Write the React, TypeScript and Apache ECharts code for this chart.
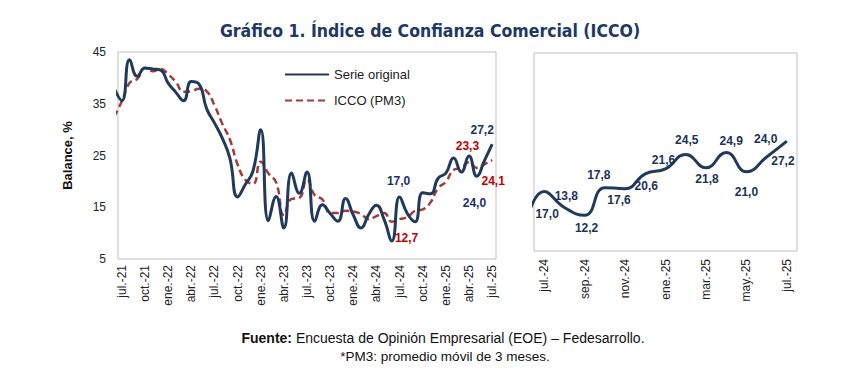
import React, { useEffect, useRef } from 'react';
import * as echarts from 'echarts';

// Left panel tick labels (every 3 months, jul-21 .. jul-25)
const leftTickLabels = ['jul.-21', 'oct.-21', 'ene.-22', 'abr.-22', 'jul.-22', 'oct.-22', 'ene.-23', 'abr.-23', 'jul.-23', 'oct.-23', 'ene.-24', 'abr.-24', 'jul.-24', 'oct.-24', 'ene.-25', 'abr.-25', 'jul.-25'];
// Right panel tick labels (every 2 months, jul-24 .. jul-25)
const rightTickLabels = ['jul.-24', 'sep.-24', 'nov.-24', 'ene.-25', 'mar.-25', 'may.-25', 'jul.-25'];

// Monthly values jun-21 .. jul-25 (first value sits just left of the plot and is clipped)
const serieOriginal = [38.0, 35.6, 43.5, 40.3, 41.9, 41.7, 41.5, 39.0, 37.2, 35.6, 39.3, 38.8, 34.0, 31.3, 28.4, 24.5, 17.0, 19.4, 22.0, 30.0, 12.4, 17.1, 11.0, 21.6, 17.7, 21.8, 12.3, 15.5, 13.8, 12.3, 16.7, 13.5, 11.0, 13.6, 15.4, 12.6, 8.5, 17.0, 13.8, 12.2, 17.8, 17.6, 20.6, 21.6, 24.5, 21.8, 24.9, 21.0, 24.0, 27.2];
const iccoPM3 = [32.5, 35.5, 39.0, 39.8, 41.9, 41.3, 41.7, 40.7, 39.2, 37.3, 37.4, 37.9, 37.4, 34.7, 31.2, 28.1, 23.3, 20.3, 19.5, 23.8, 21.5, 19.8, 13.5, 16.6, 16.8, 20.4, 17.3, 16.5, 13.9, 13.9, 14.3, 14.2, 13.7, 12.7, 13.3, 13.9, 12.2, 12.7, 13.1, 14.3, 14.6, 15.9, 18.7, 19.9, 22.2, 22.6, 23.7, 22.6, 23.3, 24.1];
// Right panel: jun-24 .. jul-25 (jun-24 clipped at the left edge)
const serieReciente = [8.5, 17.0, 13.8, 12.2, 17.8, 17.6, 20.6, 21.6, 24.5, 21.8, 24.9, 21.0, 24.0, 27.2];

const NAVY = '#213a5c';
const RED_LINE = '#a33b3b';
const RED_TXT = '#c00000';
const NAVY_TXT = '#18306a';
const FONT = "'Liberation Sans', Arial, sans-serif";

const fmt = (v: number) => v.toFixed(1).replace('.', ',');

// label placements (styles only)
const leftLabelSpecs = [
  { s: 'o', k: 37, off: [-1, -16], c: NAVY_TXT },
  { s: 'o', k: 49, off: [-10, -14], c: NAVY_TXT },
  { s: 'o', k: 48, off: [-10, 42], c: NAVY_TXT },
  { s: 'p', k: 48, off: [-17, -18], c: RED_TXT },
  { s: 'p', k: 49, off: [1, 21], c: RED_TXT },
  { s: 'p', k: 37, off: [7, 19], c: RED_TXT },
];
const rightOffsets = [[3, 22], [2, -11], [2, 13], [-6, -13], [-6, 11], [1, 12], [-2, -9], [1, -14], [1, 11], [5, -11], [0, 20], [-1, -18], [-4, 20]];

const labelBase = { show: true, fontSize: 12, fontWeight: 'bold', fontFamily: FONT, textBorderWidth: 0, textBorderColor: 'transparent', textShadowBlur: 0, opacity: 1 };

export default function App() {
  const ref = useRef<HTMLDivElement>(null);
  useEffect(() => {
    if (!ref.current) return;
    const chart = echarts.init(ref.current, undefined, { renderer: 'svg' });

    const leftLabelData = leftLabelSpecs.map((sp) => {
      const v = sp.s === 'o' ? serieOriginal[sp.k] : iccoPM3[sp.k];
      return {
        value: [sp.k - 1, v],
        label: { ...labelBase, position: 'inside', offset: sp.off, color: sp.c, formatter: fmt(v) },
      };
    });
    const rightLabelData = serieReciente.slice(1).map((v, i) => ({
      value: [i, v],
      label: { ...labelBase, position: 'inside', offset: rightOffsets[i], color: '#1a3258', formatter: fmt(v) },
    }));

    const option: any = {
      animation: false,
      backgroundColor: '#ffffff',
      textStyle: { fontFamily: FONT },
      graphic: [
        {
          type: 'text', x: 430, y: 31,
          style: {
            text: 'Gráfico 1. Índice de Confianza Comercial (ICCO)',
            fontFamily: "'Liberation Sans Narrow', 'DejaVu Sans Condensed', Arial, sans-serif",
            fontWeight: 'bold', fontSize: 17.5, fill: '#203864', textAlign: 'center', textVerticalAlign: 'middle',
          },
        },
        {
          type: 'text', x: 443, y: 338,
          style: {
            text: '{b|Fuente:} Encuesta de Opinión Empresarial (EOE) – Fedesarrollo.',
            fontFamily: FONT, fontSize: 14, fill: '#111', textAlign: 'center', textVerticalAlign: 'middle',
            rich: { b: { fontWeight: 'bold', fontSize: 14, fontFamily: FONT, fill: '#111' } },
          },
        },
        {
          type: 'text', x: 445, y: 356,
          style: {
            text: '*PM3: promedio móvil de 3 meses.',
            fontFamily: FONT, fontSize: 13.5, fill: '#111', textAlign: 'center', textVerticalAlign: 'middle',
          },
        },
      ],
      legend: {
        data: ['Serie original', 'ICCO (PM3)'],
        orient: 'vertical', left: 284, top: 68, padding: 0,
        itemWidth: 44, itemHeight: 14, itemGap: 13,
        itemStyle: { opacity: 0 },
        textStyle: { fontSize: 13, color: '#222', fontFamily: FONT },
      },
      grid: [
        { left: 118, top: 52, width: 378, height: 207, show: true, borderColor: '#bfbfbf', borderWidth: 1, backgroundColor: 'transparent' },
        { left: 534, top: 53, width: 263, height: 198, show: true, borderColor: '#bfbfbf', borderWidth: 1, backgroundColor: 'transparent' },
      ],
      xAxis: [
        {
          type: 'value', gridIndex: 0, min: -0.5, max: 48.5,
          axisLine: { show: false }, axisTick: { show: false }, splitLine: { show: false },
          axisLabel: {
            customValues: leftTickLabels.map((_, i) => i * 3),
            formatter: (v: number) => leftTickLabels[Math.round(v / 3)] || '',
            rotate: 90, fontSize: 12, color: '#222', margin: 6, fontFamily: FONT,
          },
        },
        {
          type: 'value', gridIndex: 1, min: -0.5, max: 12.5,
          axisLine: { show: false }, axisTick: { show: false }, splitLine: { show: false },
          axisLabel: {
            customValues: rightTickLabels.map((_, i) => i * 2),
            formatter: (v: number) => rightTickLabels[Math.round(v / 2)] || '',
            rotate: 90, fontSize: 12, color: '#222', margin: 8, fontFamily: FONT,
          },
        },
      ],
      yAxis: [
        {
          type: 'value', gridIndex: 0, min: 5, max: 45, interval: 10,
          axisLine: { show: false }, axisTick: { show: false }, splitLine: { show: false },
          axisLabel: { fontSize: 12, color: '#222', margin: 12, fontFamily: FONT },
          name: 'Balance, %', nameLocation: 'middle', nameRotate: 90, nameGap: 44,
          nameTextStyle: { fontSize: 13, fontWeight: 'bold', color: '#111', fontFamily: FONT },
        },
        {
          type: 'value', gridIndex: 1, min: 5, max: 45, show: false,
          splitLine: { show: false },
        },
      ],
      series: [
        {
          name: 'ICCO (PM3)', type: 'line', xAxisIndex: 0, yAxisIndex: 0,
          data: iccoPM3.map((v, k) => [k - 1, v]),
          smooth: 0.5, symbol: 'none', clip: true, z: 2,
          lineStyle: { color: RED_LINE, width: 2.5, type: [7, 4] },
          itemStyle: { color: RED_LINE },
        },
        {
          name: 'Serie original', type: 'line', xAxisIndex: 0, yAxisIndex: 0,
          data: serieOriginal.map((v, k) => [k - 1, v]),
          smooth: 0.5, symbol: 'none', clip: true, z: 3,
          lineStyle: { color: NAVY, width: 3 },
          itemStyle: { color: NAVY },
        },
        {
          name: 'labelsLeft', type: 'scatter', xAxisIndex: 0, yAxisIndex: 0,
          data: leftLabelData, symbolSize: 0.1, z: 5, clip: false, silent: true,
          itemStyle: { color: NAVY, opacity: 1 },
          label: { ...labelBase },
        },
        {
          name: 'reciente', type: 'line', xAxisIndex: 1, yAxisIndex: 1,
          data: serieReciente.map((v, j) => [j - 1, v]),
          smooth: 0.5, symbol: 'none', clip: true, z: 3,
          lineStyle: { color: NAVY, width: 3 },
        },
        {
          name: 'labelsRight', type: 'scatter', xAxisIndex: 1, yAxisIndex: 1,
          data: rightLabelData, symbolSize: 0.1, z: 5, clip: false, silent: true,
          itemStyle: { color: NAVY, opacity: 1 },
          label: { ...labelBase },
        },
      ],
    };
    chart.setOption(option);
    return () => chart.dispose();
  }, []);
  return <div ref={ref} style={{ position: 'fixed', left: 0, top: 0, width: 861, height: 375, background: '#fff' }} />;
}
